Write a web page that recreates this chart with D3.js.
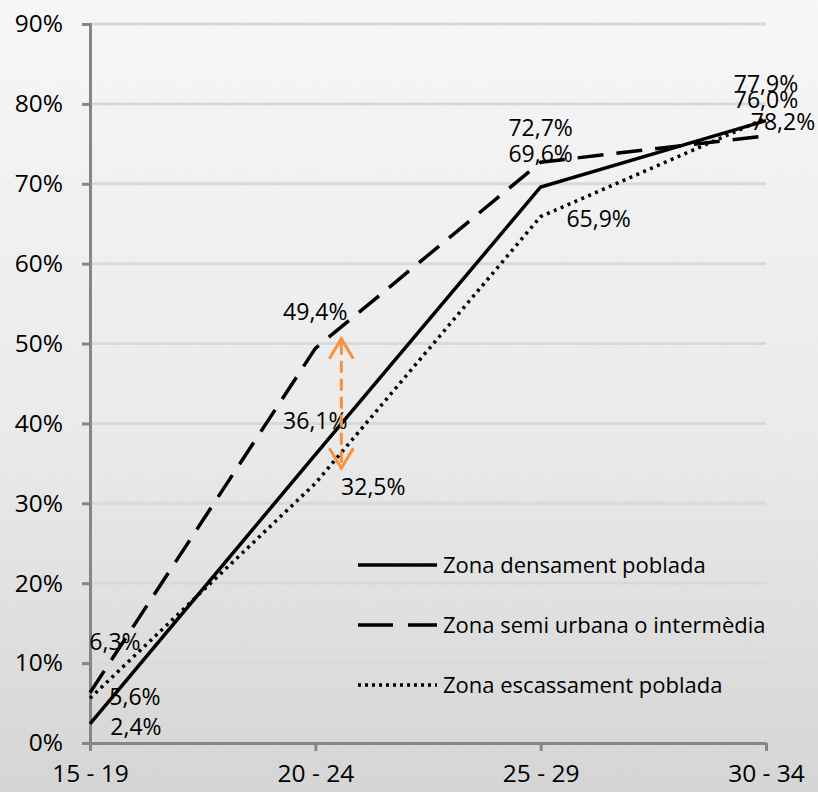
<!DOCTYPE html>
<html>
<head>
<meta charset="utf-8">
<script src="https://cdn.jsdelivr.net/npm/d3@7"></script>
<style>
  body { margin: 0; background: #fff; }
  svg text { font-family: "Open Sans", "Noto Sans", sans-serif; fill: #000; }
</style>
</head>
<body>
<div id="chart"></div>
<script>
const categories = ['15 - 19', '20 - 24', '25 - 29', '30 - 34'];
const densament = [2.4, 36.1, 69.6, 77.9];
const semiUrbana = [6.3, 49.4, 72.7, 76.0];
const escassament = [5.6, 32.5, 65.9, 78.2];
const yTicks = [0, 10, 20, 30, 40, 50, 60, 70, 80, 90];

const series = [
  {name: 'Zona densament poblada', values: densament, dash: null, legendDash: null,
   offsets: [[46, 3], [0, -34], [0, -33], [0, -37]]},
  {name: 'Zona semi urbana o intermèdia', values: semiUrbana, dash: '26,13', legendDash: '35,15',
   offsets: [[25, -51], [0, -36], [0, -34], [0, -36]]},
  {name: 'Zona escassament poblada', values: escassament, dash: '3,4.5', legendDash: '3,4',
   offsets: [[45, -1], [58, 4], [58, 2], [17, 4]]}
];

const W = 818, H = 792;
const svg = d3.select('#chart').append('svg')
    .attr('width', W)
    .attr('height', H);

// background
const defs = svg.append('defs');
const grad = defs.append('linearGradient')
    .attr('id', 'bg')
    .attr('x1', 0).attr('y1', 0).attr('x2', 0).attr('y2', 1);
grad.append('stop').attr('offset', '0%').attr('stop-color', '#f9f9f9');
grad.append('stop').attr('offset', '55%').attr('stop-color', '#ececec');
grad.append('stop').attr('offset', '100%').attr('stop-color', '#d6d6d6');
const noise = defs.append('filter').attr('id', 'noise');
noise.append('feTurbulence')
    .attr('type', 'fractalNoise')
    .attr('baseFrequency', 0.9)
    .attr('numOctaves', 2)
    .attr('result', 't');
noise.append('feColorMatrix')
    .attr('type', 'matrix')
    .attr('values', '0 0 0 0 0.5  0 0 0 0 0.5  0 0 0 0 0.5  0 0 0 0.08 0');
svg.append('rect').attr('width', W).attr('height', H).attr('fill', 'url(#bg)');
svg.append('rect').attr('width', W).attr('height', H).attr('filter', 'url(#noise)');

const x = d3.scalePoint()
    .domain(categories)
    .range([90, 766]);
const y = d3.scaleLinear()
    .domain([0, 90])
    .range([743, 24]);

// gridlines
svg.append('g')
  .selectAll('line')
  .data(yTicks.filter(d => d > 0))
  .enter()
    .append('line')
      .attr('x1', 90)
      .attr('x2', 766)
      .attr('y1', d => y(d))
      .attr('y2', d => y(d))
      .attr('stroke', '#d9d9d9')
      .attr('stroke-width', 3);

// y axis
const yAxis = d3.axisLeft(y)
    .tickValues(yTicks)
    .tickSize(8)
    .tickPadding(19)
    .tickFormat(d => d + '%');
const gy = svg.append('g')
    .attr('transform', 'translate(90,0)')
    .call(yAxis);
gy.select('.domain').attr('stroke', '#868686').attr('stroke-width', 3);
gy.selectAll('.tick line').attr('stroke', '#868686').attr('stroke-width', 3);
gy.selectAll('.tick text').style('font-size', '24.5px');

// x axis
const xAxis = d3.axisBottom(x)
    .tickSize(8)
    .tickPadding(14)
    .tickSizeOuter(0);
const gx = svg.append('g')
    .attr('transform', 'translate(0,743)')
    .call(xAxis);
gx.select('.domain').attr('stroke', '#868686').attr('stroke-width', 3);
gx.selectAll('.tick line').attr('stroke', '#868686').attr('stroke-width', 3);
gx.selectAll('.tick text').style('font-size', '24.5px');

// lines
const line = d3.line()
    .x((d, i) => x(categories[i]))
    .y(d => y(d));

series.forEach(s => {
  svg.append('path')
      .datum(s.values)
      .attr('d', line)
      .attr('fill', 'none')
      .attr('stroke', '#000')
      .attr('stroke-width', 3.5)
      .attr('stroke-dasharray', s.dash);
});

// data labels
series.forEach(s => {
  svg.append('g')
    .selectAll('text')
    .data(s.values)
    .enter()
      .append('text')
        .attr('x', (d, i) => x(categories[i]) + s.offsets[i][0])
        .attr('y', (d, i) => y(d) + s.offsets[i][1])
        .attr('dy', '0.35em')
        .attr('text-anchor', 'middle')
        .style('font-size', '23px')
        .text(d => d.toFixed(1).replace('.', ',') + '%');
});

// orange double arrow between 20-24 values
const ax = x('20 - 24') + 26,
      aTop = y(50.6),
      aBot = y(34.4),
      orange = '#f7903f';
svg.append('line')
    .attr('x1', ax).attr('x2', ax)
    .attr('y1', aTop + 4).attr('y2', aBot - 4)
    .attr('stroke', orange)
    .attr('stroke-width', 3)
    .attr('stroke-dasharray', '12,6');
svg.append('path')
    .attr('d', `M${ax - 12},${aTop + 20} L${ax},${aTop} L${ax + 12},${aTop + 20}`)
    .attr('fill', 'none')
    .attr('stroke', orange)
    .attr('stroke-width', 3);
svg.append('path')
    .attr('d', `M${ax - 12},${aBot - 20} L${ax},${aBot} L${ax + 12},${aBot - 20}`)
    .attr('fill', 'none')
    .attr('stroke', orange)
    .attr('stroke-width', 3);

// legend
const legend = svg.append('g')
    .attr('transform', 'translate(358,565)');
series.forEach((s, i) => {
  const row = legend.append('g').attr('transform', `translate(0,${i * 60})`);
  row.append('line')
      .attr('x1', 0).attr('x2', 79)
      .attr('stroke', '#000')
      .attr('stroke-width', 3.5)
      .attr('stroke-dasharray', s.legendDash);
  row.append('text')
      .attr('x', 85)
      .attr('dy', '0.35em')
      .style('font-size', '22px')
      .text(s.name);
});
</script>
</body>
</html>
